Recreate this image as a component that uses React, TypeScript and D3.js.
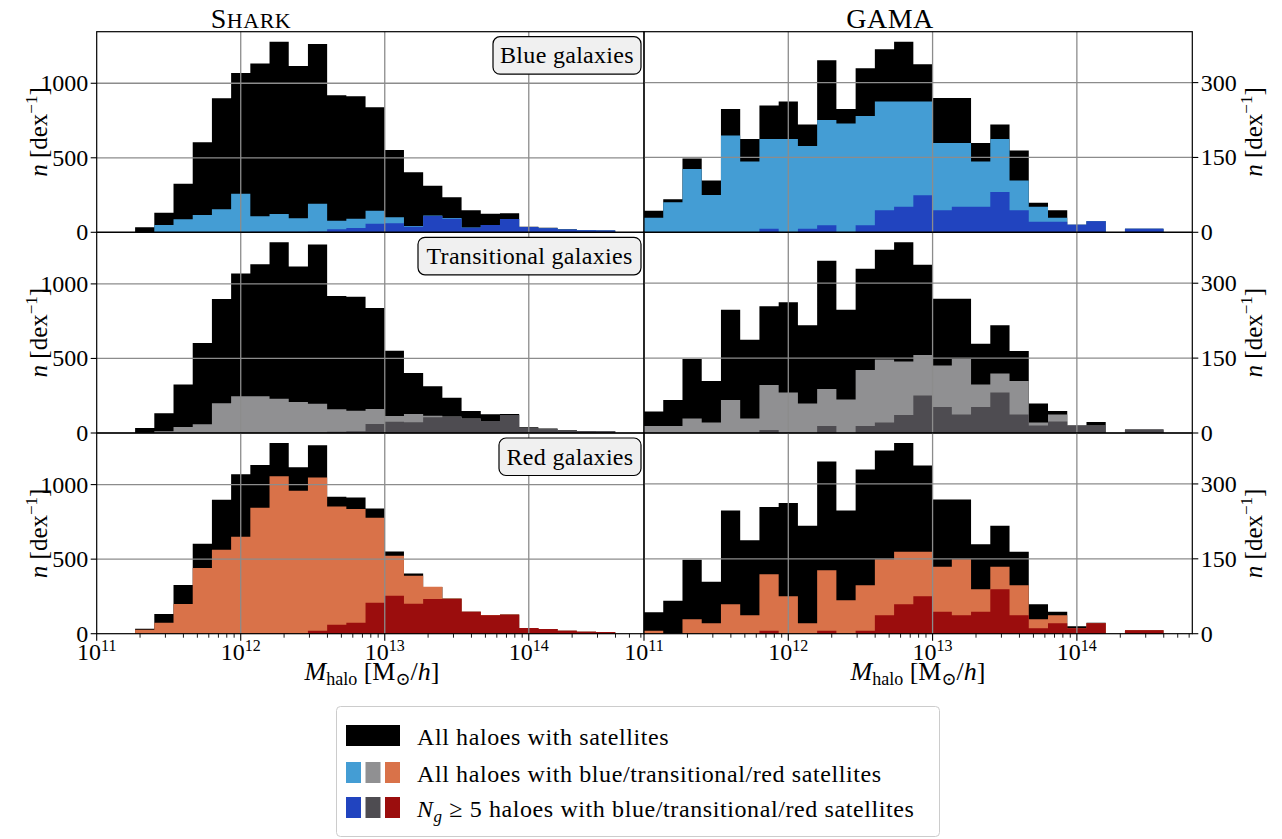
import React from 'react';
import * as d3 from 'd3';

// Histogram binning in log10(M_halo): 27 bins of width 4/30 dex starting at 10^11
const binStart = 11;
const binWidth = 4 / 30;

// SHARK counts per bin [dex^-1]
const sharkAll = [0, 0, 34, 132, 326, 604, 899, 1069, 1132, 1279, 1116, 1264, 919, 913, 839, 552, 403, 313, 236, 148, 125, 128, 38, 31, 20, 13, 12];
const sharkBlue = [0, 0, 0, 49, 87, 116, 154, 259, 107, 123, 94, 192, 78, 91, 145, 101, 42, 112, 96, 33, 49, 89, 36, 27, 18, 13, 12];
const sharkBlueNg5 = [0, 0, 0, 0, 0, 0, 0, 2, 3, 3, 4, 5, 20, 29, 58, 60, 38, 109, 91, 31, 49, 89, 36, 27, 18, 13, 12];
const sharkTrans = [0, 0, 0, 11, 40, 58, 200, 247, 247, 229, 208, 197, 159, 150, 161, 114, 128, 116, 110, 97, 81, 121, 34, 25, 17, 13, 11];
const sharkTransNg5 = [0, 0, 0, 0, 0, 0, 0, 1, 2, 2, 3, 4, 8, 12, 60, 76, 72, 106, 108, 96, 81, 121, 34, 25, 17, 13, 11];
const sharkRed = [0, 0, 27, 74, 199, 440, 563, 650, 844, 1056, 958, 1047, 853, 837, 778, 523, 388, 315, 236, 148, 125, 128, 38, 31, 20, 13, 11];
const sharkRedNg5 = [0, 0, 0, 0, 0, 0, 0, 0, 2, 3, 0, 20, 60, 74, 208, 254, 201, 232, 232, 147, 123, 127, 38, 31, 20, 13, 11];

// GAMA counts per bin [dex^-1]
const gamaAll = [43, 66, 148, 104, 247, 187, 254, 262, 216, 345, 247, 329, 367, 382, 337, 269, 269, 179, 216, 164, 59, 44, 15, 22, 0, 7, 7];
const gamaBlue = [29, 60, 127, 75, 194, 142, 187, 187, 173, 225, 218, 233, 262, 262, 262, 179, 179, 142, 187, 104, 51, 29, 15, 22, 0, 7, 7];
const gamaBlueNg5 = [0, 0, 0, 0, 0, 0, 7, 0, 7, 14, 0, 14, 44, 51, 74, 44, 51, 51, 81, 44, 21, 21, 15, 22, 0, 7, 7];
const gamaTrans = [14, 14, 29, 21, 66, 29, 96, 81, 59, 88, 67, 126, 147, 143, 156, 135, 148, 97, 119, 104, 21, 37, 15, 15, 0, 7, 7];
const gamaTransNg5 = [0, 0, 0, 0, 0, 0, 6, 0, 0, 14, 0, 14, 21, 36, 75, 52, 37, 52, 81, 37, 15, 23, 15, 15, 0, 7, 7];
const gamaRed = [6, 0, 29, 21, 59, 37, 119, 75, 21, 127, 67, 97, 149, 164, 164, 134, 149, 89, 134, 97, 29, 37, 11, 21, 0, 7, 7];
const gamaRedNg5 = [0, 0, 0, 0, 0, 0, 6, 0, 0, 6, 0, 6, 37, 59, 75, 44, 37, 44, 89, 37, 11, 21, 11, 21, 0, 7, 7];

// Axis ticks and labels
const xMajorExps = [11, 12, 13, 14];
const sharkYTicks = [0, 500, 1000];
const gamaYTicks = [0, 150, 300];
const rowTitles = ['Blue galaxies', 'Transitional galaxies', 'Red galaxies'];
const columnTitles = ['GAMA'];

// Colours: [all haloes, all with colour, N_g >= 5 with colour]
const allColor = '#000000';
const lightColors = ['#449dd4', '#909092', '#d97249'];
const darkColors = ['#2144bf', '#4e4c51', '#9b0d0d'];

const FONT = '"Liberation Serif", "DejaVu Serif", serif';
const TICK_FS = 24;
const SUP_FS = 16;

const W = 1282;
const H = 839;
const colX = [[96.7, 644], [644, 1192.3]];
const rowY = [31.7, 232.3, 433, 633.7];
const xDomain = [1e11, Math.pow(10, 14.8)];

type PanelProps = {
  x0: number; x1: number; y0: number; y1: number;
  yMax: number; yTicks: number[];
  all: number[]; sub: number[]; ng5: number[];
  light: string; dark: string;
  side: 'left' | 'right';
  bottom: boolean;
  title?: string;
  titleW?: number;
};

function stepPath(values: number[], x: d3.ScaleLogarithmic<number, number>, y: d3.ScaleLinear<number, number>) {
  const pts: [number, number][] = values.map((v, i) => [binStart + i * binWidth, v]);
  pts.push([binStart + values.length * binWidth, values[values.length - 1]]);
  const area = d3.area<[number, number]>()
    .x((d) => x(Math.pow(10, d[0])))
    .y0(y(0))
    .y1((d) => y(d[1]))
    .curve(d3.curveStepAfter);
  return area(pts) || '';
}

function Panel(p: PanelProps) {
  const x = d3.scaleLog().domain(xDomain).range([p.x0, p.x1]);
  const y = d3.scaleLinear().domain([0, p.yMax]).range([p.y1, p.y0]);
  const gridX = xMajorExps.filter((e) => e > 11).map((e) => Math.pow(10, e));
  const gridY = p.yTicks.filter((t) => t > 0);
  const minor: number[] = [];
  for (let e = 11; e <= 14; e++) {
    for (let m = 2; m <= 9; m++) {
      const v = m * Math.pow(10, e);
      if (v < xDomain[1]) minor.push(v);
    }
  }
  const tw = p.titleW || 140;
  return (
    <g>
      <path d={stepPath(p.all, x, y)} fill={allColor} />
      <path d={stepPath(p.sub, x, y)} fill={p.light} />
      <path d={stepPath(p.ng5, x, y)} fill={p.dark} />
      {gridX.map((v) => (
        <line key={'gx' + v} x1={x(v)} x2={x(v)} y1={p.y0} y2={p.y1} stroke="#8c8c8c" strokeWidth={1.3} />
      ))}
      {gridY.map((v) => (
        <line key={'gy' + v} x1={p.x0} x2={p.x1} y1={y(v)} y2={y(v)} stroke="#8c8c8c" strokeWidth={1.3} />
      ))}
      <rect x={p.x0} y={p.y0} width={p.x1 - p.x0} height={p.y1 - p.y0} fill="none" stroke="#000" strokeWidth={1.2} />
      {p.yTicks.map((t) => {
        const yy = y(t);
        const sx = p.side === 'left' ? p.x0 : p.x1;
        const dir = p.side === 'left' ? -1 : 1;
        return (
          <g key={'yt' + t}>
            <line x1={sx} x2={sx + dir * 6} y1={yy} y2={yy} stroke="#000" strokeWidth={1.1} />
            <text x={sx + dir * 8.5} y={yy + 8} fontSize={TICK_FS} fontFamily={FONT}
              textAnchor={p.side === 'left' ? 'end' : 'start'}>{t}</text>
          </g>
        );
      })}
      {p.bottom && minor.map((v) => (
        <line key={'mn' + v} x1={x(v)} x2={x(v)} y1={p.y1} y2={p.y1 + 4} stroke="#000" strokeWidth={0.9} />
      ))}
      {p.bottom && xMajorExps.map((e) => {
        const xx = x(Math.pow(10, e));
        return (
          <g key={'xt' + e}>
            <line x1={xx} x2={xx} y1={p.y1} y2={p.y1 + 7} stroke="#000" strokeWidth={1.1} />
            <text x={xx} y={p.y1 + 26} fontSize={TICK_FS} fontFamily={FONT} textAnchor="middle">
              10<tspan dy={-9} fontSize={SUP_FS}>{e}</tspan>
            </text>
          </g>
        );
      })}
      {p.title && (
        <g>
          <rect x={p.x1 - 3 - tw} y={p.y0 + 5} width={tw} height={37.5}
            rx={7} ry={7} fill="#f0f0f0" stroke="#000" strokeWidth={1.2} />
          <text x={p.x1 - 3 - tw / 2} y={p.y0 + 31.5} fontSize={24} fontFamily={FONT}
            letterSpacing={0.3} textAnchor="middle">{p.title}</text>
        </g>
      )}
    </g>
  );
}

function YLabel({ x, cy }: { x: number; cy: number }) {
  return (
    <text transform={`translate(${x},${cy}) rotate(-90)`} fontSize={25} fontFamily={FONT} textAnchor="middle">
      <tspan fontStyle="italic">n</tspan> [dex<tspan dy={-10} fontSize={17}>−1</tspan><tspan dy={10}>]</tspan>
    </text>
  );
}

function XLabel({ cx, y }: { cx: number; y: number }) {
  return (
    <text x={cx} y={y} fontSize={26} fontFamily={FONT} textAnchor="middle">
      <tspan fontStyle="italic">M</tspan>
      <tspan dy={5} fontSize={18}>halo</tspan>
      <tspan dy={-5}> [M</tspan>
      <tspan dy={5} fontSize={18}>⊙</tspan>
      <tspan dy={-5}>/</tspan>
      <tspan fontStyle="italic">h</tspan>]
    </text>
  );
}

export default function App() {
  const shark = [
    { sub: sharkBlue, ng5: sharkBlueNg5 },
    { sub: sharkTrans, ng5: sharkTransNg5 },
    { sub: sharkRed, ng5: sharkRedNg5 },
  ];
  const gama = [
    { sub: gamaBlue, ng5: gamaBlueNg5 },
    { sub: gamaTrans, ng5: gamaTransNg5 },
    { sub: gamaRed, ng5: gamaRedNg5 },
  ];
  const titleWidths = [148, 223, 142];
  const legendBase = [745, 782, 817];

  return (
    <svg width={W} height={H} style={{ position: 'absolute', left: 0, top: 0, background: '#fff' }}>
      {[0, 1, 2].map((r) => (
        <g key={'row' + r}>
          <Panel x0={colX[0][0]} x1={colX[0][1]} y0={rowY[r]} y1={rowY[r + 1]}
            yMax={1346} yTicks={sharkYTicks} all={sharkAll} sub={shark[r].sub} ng5={shark[r].ng5}
            light={lightColors[r]} dark={darkColors[r]} side="left" bottom={r === 2}
            title={rowTitles[r]} titleW={titleWidths[r]} />
          <Panel x0={colX[1][0]} x1={colX[1][1]} y0={rowY[r]} y1={rowY[r + 1]}
            yMax={402} yTicks={gamaYTicks} all={gamaAll} sub={gama[r].sub} ng5={gama[r].ng5}
            light={lightColors[r]} dark={darkColors[r]} side="right" bottom={r === 2} />
          <YLabel x={47} cy={(rowY[r] + rowY[r + 1]) / 2} />
          <YLabel x={1262} cy={(rowY[r] + rowY[r + 1]) / 2} />
        </g>
      ))}

      {/* column titles */}
      <text x={251} y={28} fontSize={28} fontFamily={FONT} textAnchor="middle" letterSpacing={0.5}>
        S<tspan fontSize={22}>HARK</tspan>
      </text>
      <text x={890} y={28} fontSize={28} fontFamily={FONT} textAnchor="middle" letterSpacing={0.5}>{columnTitles[0]}</text>

      <XLabel cx={372} y={680} />
      <XLabel cx={918} y={680} />

      {/* legend */}
      <rect x={336.5} y={706.5} width={603} height={130} rx={4} ry={4} fill="#fff" stroke="#cccccc" strokeWidth={1} />
      <rect x={346} y={725} width={54} height={21} fill={allColor} />
      {lightColors.map((c, i) => (
        <rect key={'lc' + i} x={346 + i * 19.5} y={762} width={15} height={21} fill={c} />
      ))}
      {darkColors.map((c, i) => (
        <rect key={'dc' + i} x={346 + i * 19.5} y={797} width={15} height={21} fill={c} />
      ))}
      <text x={417} y={legendBase[0]} fontSize={24} letterSpacing={0.6} fontFamily={FONT}>All haloes with satellites</text>
      <text x={417} y={legendBase[1]} fontSize={24} letterSpacing={0.6} fontFamily={FONT}>All haloes with blue/transitional/red satellites</text>
      <text x={417} y={legendBase[2]} fontSize={24} letterSpacing={0.6} fontFamily={FONT}>
        <tspan fontStyle="italic">N</tspan>
        <tspan dy={5} fontSize={17} fontStyle="italic">g</tspan>
        <tspan dy={-5}> ≥ 5 haloes with blue/transitional/red satellites</tspan>
      </text>
    </svg>
  );
}
